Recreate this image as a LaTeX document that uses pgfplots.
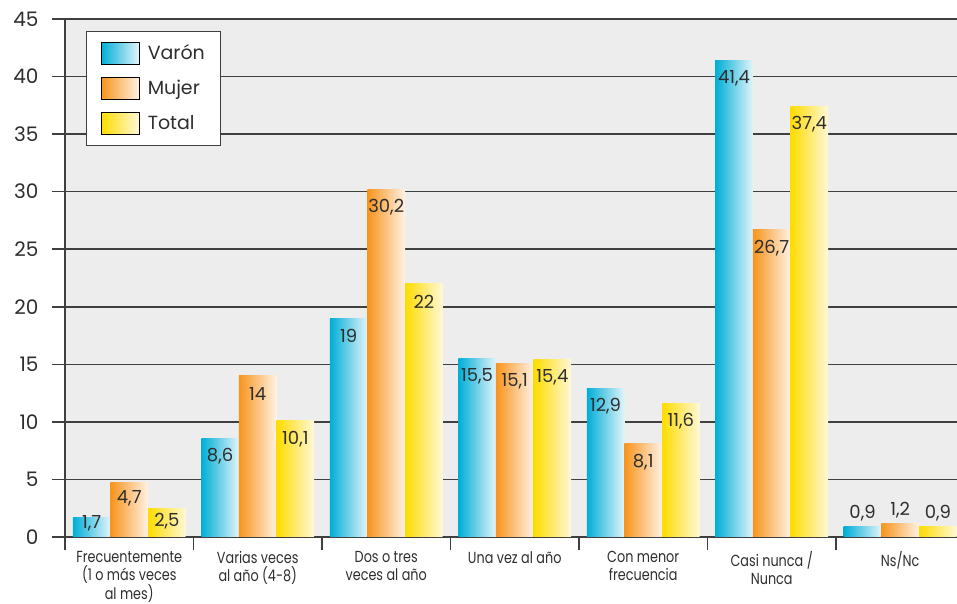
\documentclass[border=0pt]{standalone}
\usepackage{pgfplots}
\pgfplotsset{compat=1.18}
\usepackage{pgfplotstable}
\usepackage{fontspec}
\setmainfont{Poppins}
\newfontfamily\narrowfont[FakeStretch=0.8]{Poppins}
\definecolor{txt}{HTML}{2E2E2E}
\definecolor{gridc}{HTML}{3F3F3F}
\definecolor{bgc}{HTML}{EDEDED}
\definecolor{blueL}{HTML}{00AED6}
\definecolor{blueR}{HTML}{E2F4FA}
\definecolor{orL}{HTML}{F7941D}
\definecolor{orR}{HTML}{FFF2E4}
\definecolor{yeL}{HTML}{FFDC00}
\definecolor{yeR}{HTML}{FFF8D8}

\pgfplotstableread{
x y dy
0 1.7 -5.5
1 8.6 -18
2 19 -18
3 15.5 -18
4 12.9 -18
5 41.4 -18
6 0.9 13
}\varon
\pgfplotstableread{
x y dy
0 4.7 -15
1 14 -18
2 30.2 -18
3 15.1 -18
4 8.1 -18
5 26.7 -18
6 1.2 13
}\mujer
\pgfplotstableread{
x y dy
0 2.5 -13
1 10.1 -18
2 22 -18
3 15.4 -18
4 11.6 -18
5 37.4 -18
6 0.9 13
}\total

\begin{document}
\begin{tikzpicture}
\useasboundingbox (-65pt,-67pt) rectangle (892pt,537pt);
\begin{axis}[
  at={(0pt,0pt)}, anchor=south west,
  scale only axis, width=892pt, height=518pt,
  xmin=-0.5, xmax=6.442, ymin=0, ymax=45,
  axis lines=left,
  axis line style={-, draw=gridc, line width=1.5pt},
  axis background/.style={fill=bgc},
  ymajorgrids,
  grid style={draw=gridc, line width=1.5pt},
  ytick={0,5,...,45},
  tick align=outside,
  major tick length=13pt,
  tick style={draw=gridc, line width=1.5pt},
  xtick={-0.5,0.5,...,5.5},
  xticklabels={},
  extra x ticks={0,1,2,3,4,5,6},
  extra x tick labels={Frecuentemente\\(1 o más veces\\al mes), Varias veces\\al año (4-8), Dos o tres\\veces al año, Una vez al año, Con menor\\frecuencia, Casi nunca /\\Nunca, Ns/Nc},
  extra x tick style={major tick length=0pt, grid=none,
    xticklabel style={align=center, font=\narrowfont\fontsize{16}{17.5}\selectfont, text=txt, yshift=-11pt}},
  yticklabel style={font=\fontsize{20}{22}\selectfont, text=txt, xshift=-10pt},
  /pgf/number format/assume math mode=true,
  ybar, bar width=0.293,
  nodes near coords={\pgfmathprintnumber[use comma]{\pgfplotspointmeta}},
  visualization depends on={\thisrow{dy} \as \dy},
  every node near coord/.append style={anchor=center, yshift=\dy pt, font=\fontsize{18}{20}\selectfont, text=txt, /pgf/number format/assume math mode=true},
  legend style={at={(0.0235,0.977)}, anchor=north west, draw=gridc, line width=1.2pt, fill=white,
    font=\fontsize{19}{21}\selectfont, text=txt, inner xsep=14pt, inner ysep=10pt, row sep=12pt, column sep=6pt},
  legend cell align=left,
]
\addlegendimage{legend image code/.code={\shade[left color=blueL, right color=blueR] (0pt,-11pt) rectangle (38pt,11pt);}}
\addlegendentry{Varón}
\addlegendimage{legend image code/.code={\shade[left color=orL, right color=orR] (0pt,-11pt) rectangle (38pt,11pt);}}
\addlegendentry{Mujer}
\addlegendimage{legend image code/.code={\shade[left color=yeL, right color=yeR] (0pt,-11pt) rectangle (38pt,11pt);}}
\addlegendentry{Total}
\pgfplotsinvokeforeach{0,...,6}{
  \addplot[draw=none, left color=blueL, right color=blueR, bar shift=-0.293, forget plot,
    restrict x to domain=#1:#1] table[x=x, y=y] {\varon};
  \addplot[draw=none, left color=orL, right color=orR, bar shift=0, forget plot,
    restrict x to domain=#1:#1] table[x=x, y=y] {\mujer};
  \addplot[draw=none, left color=yeL, right color=yeR, bar shift=0.293, forget plot,
    restrict x to domain=#1:#1] table[x=x, y=y] {\total};
}
\end{axis}
\end{tikzpicture}
\end{document}
